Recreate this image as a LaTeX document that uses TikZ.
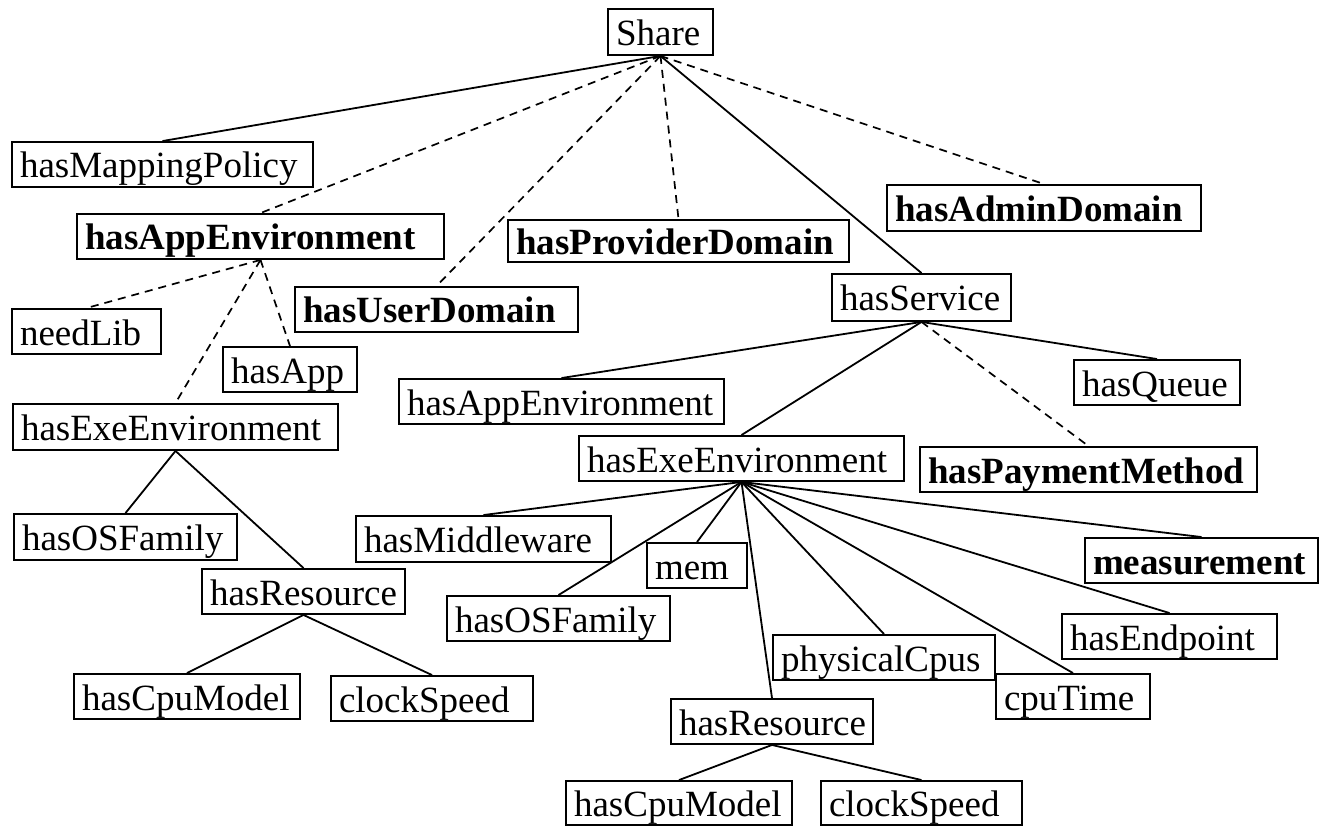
\documentclass[tikz,border=0pt]{standalone}
\usepackage{fontspec}
\setmainfont{Liberation Serif}
\tikzset{
  bx/.style={draw, line width=1.9pt, inner xsep=8pt, inner ysep=0pt, align=left,
    text height=28pt, text depth=1pt, font=\fontsize{37}{40}\selectfont},
  bxb/.style={bx, font=\fontsize{37}{40}\selectfont\bfseries},
  ln/.style={line width=1.8pt},
  dsh/.style={line width=1.7pt, dash pattern=on 8pt off 6pt}
}
\newcommand{\bx}[7][bx]{%
  \pgfmathsetmacro{\bxw}{#5-#3-16}%
  \pgfmathsetmacro{\bxh}{#6-#4}%
  \pgfmathsetmacro{\bxx}{(#3+#5)/2}%
  \pgfmathsetmacro{\bxy}{(#4+#6)/2}%
  \node[#1, text width=\bxw pt, minimum height=\bxh pt] (#2) at (\bxx,\bxy) {#7};}
\begin{document}
\begin{tikzpicture}[x=1pt,y=-1pt]
\fill[white] (0,0) rectangle (1320,826);
\useasboundingbox (0,0) rectangle (1320,826);
% nodes
\bx{share}{608}{9}{713}{55}{Share}
\bx{mapping}{12}{142}{313}{187}{hasMappingPolicy}
\bx[bxb]{appL}{77}{214}{444}{259}{hasAppEnvironment}
\bx[bxb]{provider}{508}{220}{849}{262}{hasProviderDomain}
\bx[bxb]{admin}{887}{185}{1201}{231}{hasAdminDomain}
\bx[bxb]{user}{295}{287}{578}{332}{hasUserDomain}
\bx{service}{832}{274}{1011}{321}{hasService}
\bx{needlib}{12}{309}{161}{354}{needLib}
\bx{hasapp}{223}{347}{357}{392}{hasApp}
\bx{exeL}{13}{404}{338}{450}{hasExeEnvironment}
\bx{osL}{14}{514}{237}{560}{hasOSFamily}
\bx{resL}{202}{569}{405}{614}{hasResource}
\bx{cpuL}{74}{674}{300}{719}{hasCpuModel}
\bx{clockL}{331}{676}{533}{721}{clockSpeed}
\bx{appR}{399}{379}{724}{424}{hasAppEnvironment}
\bx{queue}{1074}{360}{1240}{405}{hasQueue}
\bx{exeR}{579}{436}{904}{481}{hasExeEnvironment}
\bx[bxb]{payment}{920}{447}{1257}{492}{hasPaymentMethod}
\bx{middle}{356}{516}{611}{562}{hasMiddleware}
\bx{mem}{647}{543}{747}{588}{mem}
\bx{osR}{447}{596}{670}{641}{hasOSFamily}
\bx[bxb]{measure}{1085}{538}{1318}{583}{measurement}
\bx{physical}{773}{635}{995}{680}{physicalCpus}
\bx{endpoint}{1062}{614}{1277}{659}{hasEndpoint}
\bx{cputime}{996}{674}{1150}{719}{cpuTime}
\bx{resR}{671}{699}{873}{744}{hasResource}
\bx{cpuR}{566}{781}{792}{825}{hasCpuModel}
\bx{clockR}{821}{781}{1022}{825}{clockSpeed}
% connectors from Share
\draw[ln] (share.south) -- (mapping.north);
\draw[dsh] (share.south) -- (appL.north);
\draw[dsh] (share.south) -- (user.north);
\draw[dsh] (share.south) -- (provider.north);
\draw[ln] (share.south) -- (service.north);
\draw[dsh] (share.south) -- (admin.north);
% left hasAppEnvironment
\draw[dsh] (appL.south) -- (needlib.north);
\draw[dsh] (appL.south) -- (exeL.north);
\draw[dsh] (appL.south) -- (hasapp.north);
\draw[ln] (exeL.south) -- (osL.north);
\draw[ln] (exeL.south) -- (resL.north);
\draw[ln] (resL.south) -- (cpuL.north);
\draw[ln] (resL.south) -- (clockL.north);
% hasService
\draw[ln] (service.south) -- (appR.north);
\draw[ln] (service.south) -- (exeR.north);
\draw[dsh] (service.south) -- (payment.north);
\draw[ln] (service.south) -- (queue.north);
% right hasExeEnvironment
\draw[ln] (exeR.south) -- (middle.north);
\draw[ln] (exeR.south) -- (osR.north);
\draw[ln] (exeR.south) -- (mem.north);
\draw[ln] (exeR.south) -- (resR.north);
\draw[ln] (exeR.south) -- (physical.north);
\draw[ln] (exeR.south) -- (cputime.north);
\draw[ln] (exeR.south) -- (endpoint.north);
\draw[ln] (exeR.south) -- (measure.north);
\draw[ln] (resR.south) -- (cpuR.north);
\draw[ln] (resR.south) -- (clockR.north);
\end{tikzpicture}
\end{document}
